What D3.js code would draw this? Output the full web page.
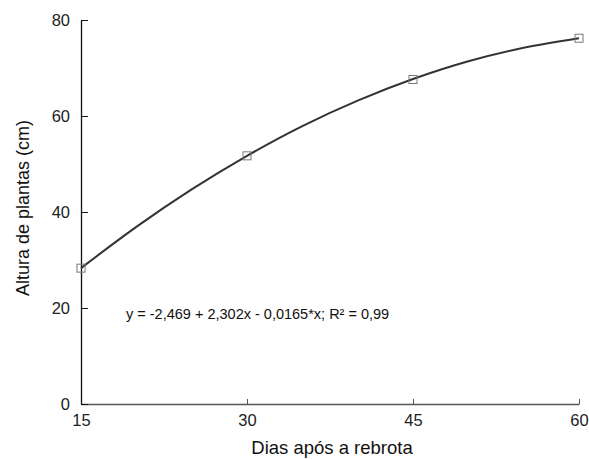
<!DOCTYPE html>
<html>
<head>
<meta charset="utf-8">
<script src="https://cdn.jsdelivr.net/npm/d3@7"></script>
<style>
  body { margin: 0; background: #fff; }
  svg { font-family: "Liberation Sans", Arial, sans-serif; }
</style>
</head>
<body>
<svg id="chart" width="589" height="459"></svg>
<script>
const days = [15, 30, 45, 60];
const heights = [28.3, 51.7, 67.6, 76.2];
// fitted curve, every 5 days
const fitDays = [15, 20, 25, 30, 35, 40, 45, 50, 55, 60];
const fitHeights = [28.3, 36.9, 44.7, 51.7, 57.9, 63.2, 67.7, 71.4, 74.2, 76.2];
const xTicks = [15, 30, 45, 60];
const yTicks = [0, 20, 40, 60, 80];
const equation = 'y = -2,469 + 2,302x - 0,0165*x; R² = 0,99';

const svg = d3.select('#chart');
const x = d3.scaleLinear().domain([15, 60]).range([81, 579]);
const y = d3.scaleLinear().domain([0, 80]).range([404, 20]);

// x axis (ticks pointing up into the plot)
const xAxis = svg.append('g')
  .attr('transform', `translate(0,${y(0)})`)
  .call(d3.axisTop(x).tickValues(xTicks).tickSize(5).tickSizeOuter(0).tickFormat(d3.format('d')));
xAxis.select('.domain').attr('stroke', '#555').attr('stroke-width', 1.6);
xAxis.selectAll('.tick line').attr('stroke', '#555');
xAxis.selectAll('.tick text')
  .attr('y', 17).attr('dy', '0.32em')
  .attr('font-size', 16.5).attr('fill', '#222');

// y axis (ticks pointing right)
const yAxis = svg.append('g')
  .attr('transform', `translate(${x(15)},0)`)
  .call(d3.axisRight(y).tickValues(yTicks).tickSize(7).tickSizeOuter(0));
yAxis.select('.domain').attr('stroke', '#111').attr('stroke-width', 1.3);
yAxis.selectAll('.tick text')
  .attr('x', -11).attr('text-anchor', 'end')
  .attr('font-size', 16.5).attr('fill', '#222');
yAxis.selectAll('.tick line').attr('stroke', '#111');

// fitted curve
const fit = fitDays.map((d, i) => [d, fitHeights[i]]);
svg.append('path')
  .datum(fit)
  .attr('fill', 'none')
  .attr('stroke', '#333')
  .attr('stroke-width', 2)
  .attr('d', d3.line().x(d => x(d[0])).y(d => y(d[1])).curve(d3.curveMonotoneX));

// observed points
const pts = days.map((d, i) => [d, heights[i]]);
svg.selectAll('.marker')
  .data(pts)
  .enter()
  .append('rect')
  .attr('class', 'marker')
  .attr('x', d => x(d[0]) - 4)
  .attr('y', d => y(d[1]) - 4)
  .attr('width', 8)
  .attr('height', 8)
  .attr('fill', 'none')
  .attr('stroke', '#777')
  .attr('stroke-width', 1);

// equation label
svg.append('text')
  .attr('x', 126).attr('y', 319)
  .attr('font-size', 14.5).attr('fill', '#111')
  .text(equation);

// axis titles
svg.append('text')
  .attr('x', 332).attr('y', 454)
  .attr('text-anchor', 'middle')
  .attr('font-size', 18.5).attr('fill', '#111')
  .text('Dias após a rebrota');

svg.append('text')
  .attr('transform', `translate(29,208) rotate(-90)`)
  .attr('text-anchor', 'middle')
  .attr('font-size', 18).attr('fill', '#111')
  .text('Altura de plantas (cm)');
</script>
</body>
</html>
